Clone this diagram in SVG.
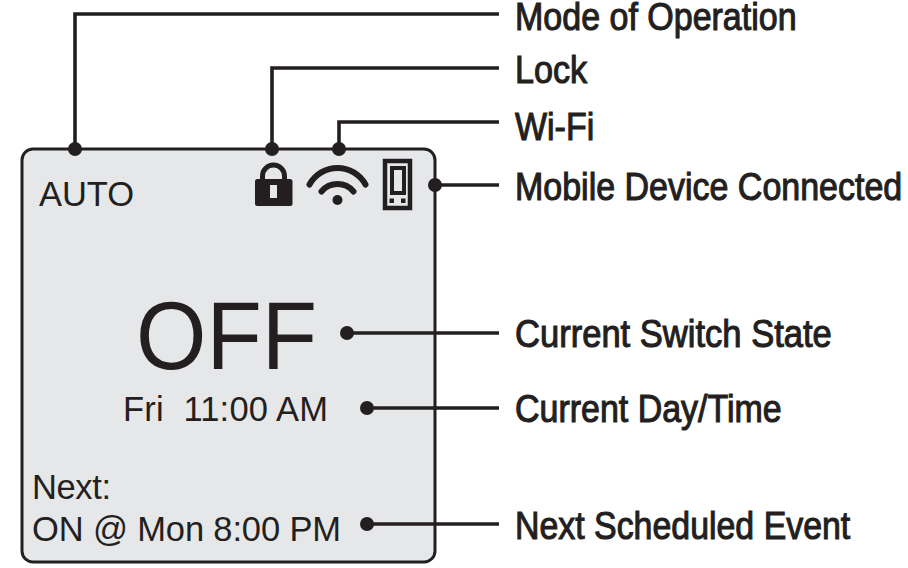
<svg xmlns="http://www.w3.org/2000/svg" width="908" height="568" viewBox="0 0 908 568">
<style>
.l{fill:none;stroke:#231f20;stroke-width:3.6}
.d{fill:#231f20}
.t{font-family:"Liberation Sans",Arial,sans-serif;fill:#231f20}
.c{font-size:39px;stroke:#231f20;stroke-width:1.1}
.s{font-size:34.5px}
.i{fill:none;stroke:#231f20}
</style>
<rect width="908" height="568" fill="#fff"/>
<g id="screen"><rect x="22" y="149" width="413" height="413" rx="11" fill="#e6e7e8" stroke="#231f20" stroke-width="3"/></g>
<g id="connectors">
<path class="l" d="M75 149V14H499"/><circle class="d" cx="75" cy="149" r="7"/>
<path class="l" d="M272 149V68H499"/><circle class="d" cx="272" cy="149" r="7"/>
<path class="l" d="M339 149V122H499"/><circle class="d" cx="339" cy="149" r="7"/>
<path class="l" d="M435 185H499"/><circle class="d" cx="435" cy="185" r="7"/>
<path class="l" d="M347 333H499"/><circle class="d" cx="347" cy="333" r="7"/>
<path class="l" d="M367 408H499"/><circle class="d" cx="367" cy="408" r="7"/>
<path class="l" d="M367 524H499"/><circle class="d" cx="367" cy="524" r="7"/>
</g>
<g id="lock">
<rect class="d" x="255" y="179" width="37.500" height="27" rx="2.500"/>
<path class="i" d="M262.500 180V176a11 11 0 0 1 22 0V180" stroke-width="5"/>
<rect x="270" y="185" width="7" height="13" fill="#e6e7e8"/>
</g>
<g id="wifi">
<path class="i" d="M309.500 184.500A32 32 0 0 1 365.500 184.500M321.500 191.500A21 21 0 0 1 353.500 191.500" stroke-width="6" stroke-linecap="round"/>
<circle class="d" cx="337.500" cy="200" r="5"/>
</g>
<g id="device">
<rect class="i" x="385" y="161" width="25" height="47" stroke-width="4.500"/>
<rect class="i" x="392" y="168" width="12" height="25" stroke-width="4"/>
<rect class="d" x="389.500" y="198.500" width="4.500" height="4.500"/><rect class="d" x="401" y="198.500" width="4.500" height="4.500"/>
</g>
<g id="screen-text">
<text class="t s" x="39" y="206" textLength="95">AUTO</text>
<text class="t" x="136" y="369" font-size="96" textLength="181" lengthAdjust="spacingAndGlyphs">OFF</text>
<text class="t s" x="123" y="421" xml:space="preserve" textLength="205">Fri  11:00 AM</text>
<text class="t s" x="32" y="499" textLength="79">Next:</text>
<text class="t s" x="32" y="541" textLength="309">ON @ Mon 8:00 PM</text>
</g>
<g id="labels">
<text class="t c" transform="translate(515 30) scale(.88 1)" textLength="320" lengthAdjust="spacingAndGlyphs">Mode of Operation</text>
<text class="t c" transform="translate(515 83) scale(.88 1)" textLength="82" lengthAdjust="spacingAndGlyphs">Lock</text>
<text class="t c" transform="translate(515 140) scale(.88 1)" textLength="90" lengthAdjust="spacingAndGlyphs">Wi-Fi</text>
<text class="t c" transform="translate(515 200) scale(.88 1)" textLength="440" lengthAdjust="spacingAndGlyphs">Mobile Device Connected</text>
<text class="t c" transform="translate(515 347) scale(.88 1)" textLength="360" lengthAdjust="spacingAndGlyphs">Current Switch State</text>
<text class="t c" transform="translate(515 422) scale(.88 1)" textLength="303" lengthAdjust="spacingAndGlyphs">Current Day/Time</text>
<text class="t c" transform="translate(515 539) scale(.88 1)" textLength="381" lengthAdjust="spacingAndGlyphs">Next Scheduled Event</text>
</g>
</svg>
